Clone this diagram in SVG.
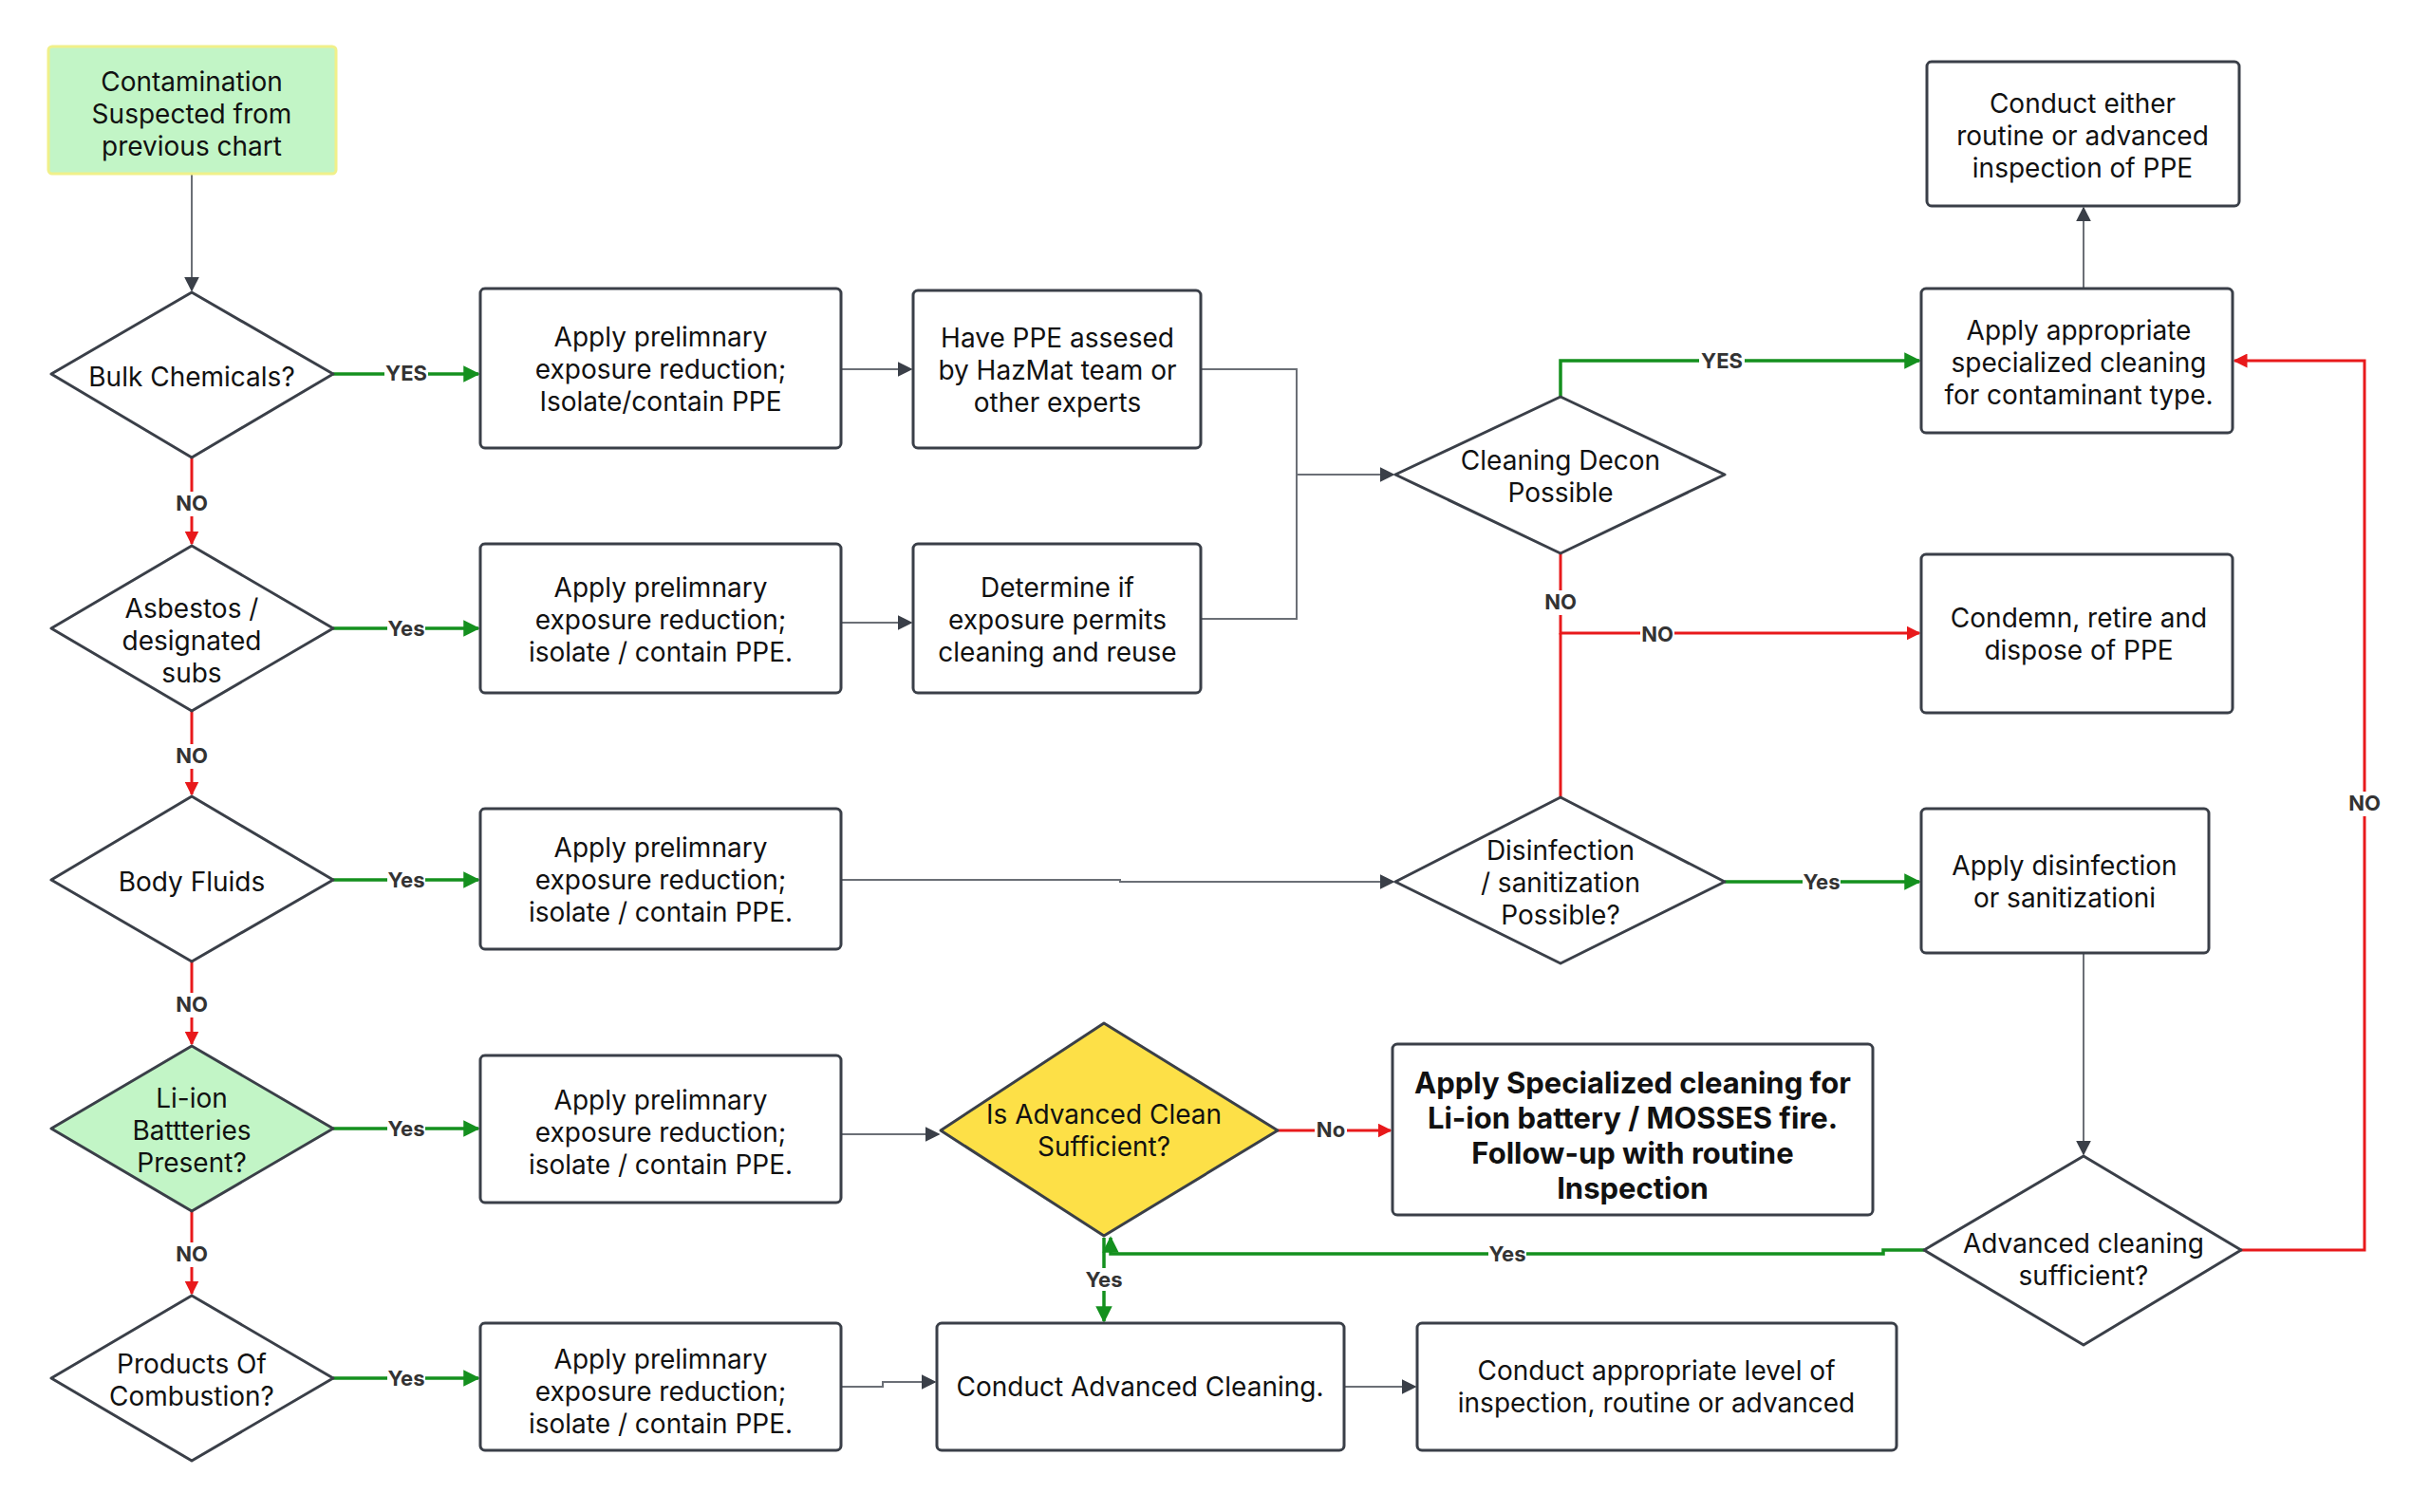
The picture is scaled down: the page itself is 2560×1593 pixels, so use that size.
<svg xmlns="http://www.w3.org/2000/svg" width="2560" height="1593" viewBox="0 0 2560 1593">
<defs>
<marker id="ag" viewBox="0 0 10 10" refX="9" refY="5" markerWidth="5" markerHeight="5" orient="auto-start-reverse" markerUnits="strokeWidth"><path d="M0,0 L10,5 L0,10 z" fill="#14901e"/></marker>
<marker id="ar" viewBox="0 0 10 10" refX="9" refY="5" markerWidth="5" markerHeight="5" orient="auto-start-reverse" markerUnits="strokeWidth"><path d="M0,0 L10,5 L0,10 z" fill="#e8191b"/></marker>
<marker id="ak" viewBox="0 0 10 10" refX="9" refY="5" markerWidth="8" markerHeight="8" orient="auto-start-reverse" markerUnits="strokeWidth"><path d="M0,0 L10,5 L0,10 z" fill="#3a3f48"/></marker>
<style>
.n{fill:#fff;stroke:#3a3f48;stroke-width:3}
.t{font-family:Inter,"Liberation Sans",sans-serif;font-size:28px;fill:#111;text-anchor:middle;dominant-baseline:central}
.b{font-weight:bold;font-size:31px}
.g{fill:none;stroke:#14901e;stroke-width:3.5;marker-end:url(#ag)}
.r{fill:none;stroke:#e8191b;stroke-width:3;marker-end:url(#ar)}
.rn{fill:none;stroke:#e8191b;stroke-width:3}
.k{fill:none;stroke:#6b6f76;stroke-width:2;marker-end:url(#ak)}
.kn{fill:none;stroke:#6b6f76;stroke-width:2}
.l{font-family:Inter,"Liberation Sans",sans-serif;font-size:22px;font-weight:bold;fill:#333;text-anchor:middle;dominant-baseline:central}
.lb{fill:#fff}
</style>
</defs>
<rect width="2560" height="1593" fill="#fff"/>
<g id="connectors">
<path class="k" d="M202,183 V306"/>
<path class="g" d="M351,394 H504"/>
<path class="r" d="M202,482 V573"/>
<path class="g" d="M351,662 H504"/>
<path class="r" d="M202,749 V837"/>
<path class="g" d="M351,927 H504"/>
<path class="r" d="M202,1013 V1100"/>
<path class="g" d="M351,1189 H504"/>
<path class="r" d="M202,1276 V1363"/>
<path class="g" d="M351,1452 H504"/>
<path class="k" d="M886,389 H960"/>
<path class="k" d="M886,656 H960"/>
<path class="kn" d="M1265,389 H1366 V652 H1265"/>
<path class="k" d="M1366,500 H1468"/>
<path class="k" d="M886,927 H1180 V929 H1468"/>
<path class="k" d="M886,1195 H989"/>
<path class="k" d="M886,1461 H930 V1456 H985"/>
<path class="k" d="M1416,1461 H1491"/>
<path class="g" d="M1644,418 V380 H2022"/>
<path class="r" d="M1644,583 V667 H2022"/>
<path class="rn" d="M1644,840 V667"/>
<path class="g" d="M1817,929 H2022"/>
<path class="r" d="M1346,1191 H1465"/>
<path class="k" d="M2195,304 V219"/>
<path class="k" d="M2195,1004 V1216"/>
<path class="r" d="M2361,1317 H2491 V380 H2354"/>
<path class="g" d="M2027,1317 H1984 V1321 H1170 V1304"/>
<path class="g" d="M1163,1304 V1392"/>
<g>
<rect class="lb" x="405" y="380" width="46" height="26"/><text class="l" x="428" y="393">YES</text>
<rect class="lb" x="408" y="650" width="40" height="24"/><text class="l" x="428" y="662">Yes</text>
<rect class="lb" x="408" y="915" width="40" height="24"/><text class="l" x="428" y="927">Yes</text>
<rect class="lb" x="408" y="1177" width="40" height="24"/><text class="l" x="428" y="1189">Yes</text>
<rect class="lb" x="408" y="1440" width="40" height="24"/><text class="l" x="428" y="1452">Yes</text>
<rect class="lb" x="184" y="518" width="36" height="26"/><text class="l" x="202" y="530">NO</text>
<rect class="lb" x="184" y="784" width="36" height="26"/><text class="l" x="202" y="796">NO</text>
<rect class="lb" x="184" y="1046" width="36" height="26"/><text class="l" x="202" y="1058">NO</text>
<rect class="lb" x="184" y="1309" width="36" height="26"/><text class="l" x="202" y="1321">NO</text>
<rect class="lb" x="1790" y="368" width="48" height="26"/><text class="l" x="1814" y="380">YES</text>
<rect class="lb" x="1626" y="622" width="36" height="26"/><text class="l" x="1644" y="634">NO</text>
<rect class="lb" x="1728" y="655" width="36" height="26"/><text class="l" x="1746" y="668">NO</text>
<rect class="lb" x="1899" y="917" width="40" height="24"/><text class="l" x="1919" y="929">Yes</text>
<rect class="lb" x="1385" y="1178" width="34" height="24"/><text class="l" x="1402" y="1190">No</text>
<rect class="lb" x="1568" y="1309" width="40" height="24"/><text class="l" x="1588" y="1321">Yes</text>
<rect class="lb" x="1143" y="1336" width="40" height="24"/><text class="l" x="1163" y="1348">Yes</text>
<rect class="lb" x="2473" y="834" width="36" height="26"/><text class="l" x="2491" y="846">NO</text>
</g>
</g>
<g id="start"><rect x="51" y="49" width="303" height="134" rx="4" fill="#c2f5c6" stroke="#f0f08a" stroke-width="3"/><text class="t" x="202" y="86">Contamination</text><text class="t" x="202" y="120">Suspected from</text><text class="t" x="202" y="154">previous chart</text></g>
<g id="d_bulk"><path class="n" d="M202,308 L351,394 L202,482 L54,394 z" stroke-linejoin="round"/><text class="t" x="202" y="397">Bulk Chemicals?</text></g>
<g id="d_asb"><path class="n" d="M202,575 L351,662 L202,749 L54,662 z" stroke-linejoin="round"/><text class="t" x="202" y="641">Asbestos /</text><text class="t" x="202" y="675">designated</text><text class="t" x="202" y="709">subs</text></g>
<g id="d_body"><path class="n" d="M202,839 L351,927 L202,1013 L54,927 z" stroke-linejoin="round"/><text class="t" x="202" y="929">Body Fluids</text></g>
<g id="d_li"><path d="M202,1102 L351,1189 L202,1276 L54,1189 z" fill="#c2f5c6" stroke="#3a3f48" stroke-width="3" stroke-linejoin="round"/><text class="t" x="202" y="1157">Li-ion</text><text class="t" x="202" y="1191">Battteries</text><text class="t" x="202" y="1225">Present?</text></g>
<g id="d_prod"><path class="n" d="M202,1365 L351,1452 L202,1539 L54,1452 z" stroke-linejoin="round"/><text class="t" x="202" y="1437">Products Of</text><text class="t" x="202" y="1471">Combustion?</text></g>
<g id="a1"><rect class="n" x="506" y="304" width="380" height="168" rx="5"/><text class="t" x="696" y="355">Apply prelimnary</text><text class="t" x="696" y="389">exposure reduction;</text><text class="t" x="696" y="423">Isolate/contain PPE</text></g>
<g id="a2"><rect class="n" x="506" y="573" width="380" height="157" rx="5"/><text class="t" x="696" y="619">Apply prelimnary</text><text class="t" x="696" y="653">exposure reduction;</text><text class="t" x="696" y="687">isolate / contain PPE.</text></g>
<g id="a3"><rect class="n" x="506" y="852" width="380" height="148" rx="5"/><text class="t" x="696" y="893">Apply prelimnary</text><text class="t" x="696" y="927">exposure reduction;</text><text class="t" x="696" y="961">isolate / contain PPE.</text></g>
<g id="a4"><rect class="n" x="506" y="1112" width="380" height="155" rx="5"/><text class="t" x="696" y="1159">Apply prelimnary</text><text class="t" x="696" y="1193">exposure reduction;</text><text class="t" x="696" y="1227">isolate / contain PPE.</text></g>
<g id="a5"><rect class="n" x="506" y="1394" width="380" height="134" rx="5"/><text class="t" x="696" y="1432">Apply prelimnary</text><text class="t" x="696" y="1466">exposure reduction;</text><text class="t" x="696" y="1500">isolate / contain PPE.</text></g>
<g id="b1"><rect class="n" x="962" y="306" width="303" height="166" rx="5"/><text class="t" x="1114" y="356">Have PPE assesed</text><text class="t" x="1114" y="390">by HazMat team or</text><text class="t" x="1114" y="424">other experts</text></g>
<g id="b2"><rect class="n" x="962" y="573" width="303" height="157" rx="5"/><text class="t" x="1114" y="619">Determine if</text><text class="t" x="1114" y="653">exposure permits</text><text class="t" x="1114" y="687">cleaning and reuse</text></g>
<g id="d_decon"><path class="n" d="M1644,418 L1817,500 L1644,583 L1470,500 z" stroke-linejoin="round"/><text class="t" x="1644" y="485">Cleaning Decon</text><text class="t" x="1644" y="519">Possible</text></g>
<g id="d_dis"><path class="n" d="M1644,840 L1817,929 L1644,1015 L1470,929 z" stroke-linejoin="round"/><text class="t" x="1644" y="896">Disinfection</text><text class="t" x="1644" y="930">/ sanitization</text><text class="t" x="1644" y="964">Possible?</text></g>
<g id="d_yellow"><path d="M1163,1078 L1346,1191 L1163,1302 L991,1191 z" fill="#fde047" stroke="#3a3f48" stroke-width="3" stroke-linejoin="round"/><text class="t" x="1163" y="1174">Is Advanced Clean</text><text class="t" x="1163" y="1208">Sufficient?</text></g>
<g id="c_adv"><rect class="n" x="987" y="1394" width="429" height="134" rx="5"/><text class="t" x="1201" y="1461">Conduct Advanced Cleaning.</text></g>
<g id="c_insp"><rect class="n" x="1493" y="1394" width="505" height="134" rx="5"/><text class="t" x="1745" y="1444">Conduct  appropriate level of</text><text class="t" x="1745" y="1478">inspection, routine or advanced</text></g>
<g id="bold"><rect class="n" x="1467" y="1100" width="506" height="180" rx="5"/><text class="t b" x="1720" y="1140">Apply Specialized cleaning for</text><text class="t b" x="1720" y="1177">Li-ion battery / MOSSES fire.</text><text class="t b" x="1720" y="1214">Follow-up with routine</text><text class="t b" x="1720" y="1251">Inspection</text></g>
<g id="top_insp"><rect class="n" x="2030" y="65" width="329" height="152" rx="5"/><text class="t" x="2194" y="109">Conduct  either</text><text class="t" x="2194" y="143">routine or advanced</text><text class="t" x="2194" y="177">inspection of PPE</text></g>
<g id="spec"><rect class="n" x="2024" y="304" width="328" height="152" rx="5"/><text class="t" x="2190" y="348">Apply appropriate</text><text class="t" x="2190" y="382">specialized cleaning</text><text class="t" x="2190" y="416">for contaminant type.</text></g>
<g id="condemn"><rect class="n" x="2024" y="584" width="328" height="167" rx="5"/><text class="t" x="2190" y="651">Condemn, retire and</text><text class="t" x="2190" y="685">dispose of PPE</text></g>
<g id="disinf"><rect class="n" x="2024" y="852" width="303" height="152" rx="5"/><text class="t" x="2175" y="912">Apply disinfection</text><text class="t" x="2175" y="946">or sanitizationi</text></g>
<g id="d_advsuf"><path class="n" d="M2195,1218 L2361,1317 L2195,1417 L2027,1317 z" stroke-linejoin="round"/><text class="t" x="2195" y="1310">Advanced cleaning</text><text class="t" x="2195" y="1344">sufficient?</text></g>
</svg>
